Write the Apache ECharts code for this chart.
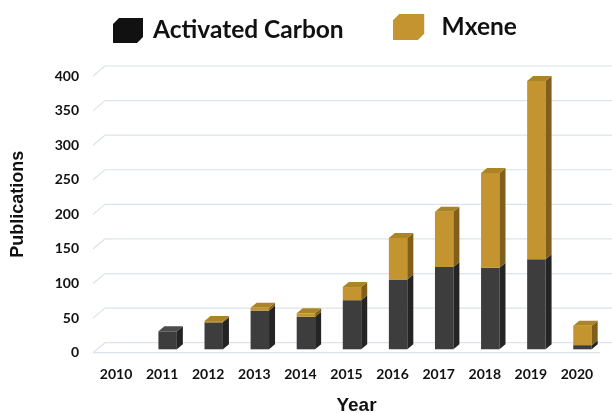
<!DOCTYPE html>
<html>
<head>
<meta charset="utf-8">
<script src="https://cdn.jsdelivr.net/npm/echarts@6/dist/echarts.min.js"></script>
<style>html,body{margin:0;padding:0;background:#fff}#c{width:612px;height:413px}</style>
</head>
<body>
<div id="c"></div>
<script>
var years = ['2010','2011','2012','2013','2014','2015','2016','2017','2018','2019','2020'];
var activatedCarbon = [0, 26, 39, 56, 47, 71, 101, 119, 118, 130, 6];
var mxene = [0, 0, 2, 4, 5, 19, 60, 80, 137, 258, 28];
var yTicks = [0, 50, 100, 150, 200, 250, 300, 350, 400];

var acData = years.map(function (y, i) { return [i, 0, activatedCarbon[i], mxene[i] > 0 ? 0 : 1]; });
var mxData = years.map(function (y, i) { return [i, activatedCarbon[i], activatedCarbon[i] + mxene[i], 1]; });
var gridData = yTicks.map(function (v) { return [0, v]; });

function barRenderer(front, side, top) {
  return function (params, api) {
    var i = api.value(0), b = api.value(1), t = api.value(2), isTop = api.value(3);
    if (!(t > b)) return null;
    var pb = api.coord([i, b]), pt = api.coord([i, t]);
    var w = api.size([1, 0])[0] * 0.4;
    var ox = 5.5, oy = -3.4, dx = 6, dy = -5;
    var x0 = pb[0] - w / 2 + ox, x1 = x0 + w, yb = pb[1] + oy, yt = pt[1] + oy;
    var children = [
      { type: 'rect', shape: { x: x0, y: yt, width: w, height: yb - yt }, style: { fill: front } },
      { type: 'polygon', shape: { points: [[x1, yt], [x1 + dx, yt + dy], [x1 + dx, yb + dy], [x1, yb]] }, style: { fill: side } }
    ];
    if (isTop) {
      children.push({ type: 'polygon', shape: { points: [[x0, yt], [x0 + dx, yt + dy], [x1 + dx, yt + dy], [x1, yt]] }, style: { fill: top } });
    }
    return { type: 'group', children: children };
  };
}

var chart = echarts.init(document.getElementById('c'), null, { renderer: 'canvas' });
var cubeIcon = 'path://M0,6 L24,6 L24,25 L0,25 Z M0,6 L6,0 L30,0 L24,6 Z M24,6 L30,0 L30,19 L24,25 Z';
chart.setOption({
  animation: false,
  backgroundColor: '#ffffff',
  legend: [
    { left: 108, top: 13, itemWidth: 30, itemHeight: 25, icon: cubeIcon,
      data: [{ name: 'Activated Carbon', itemStyle: { color: '#111111' } }],
      textStyle: { fontFamily: 'Lato', fontWeight: 'bold', fontSize: 24.5, color: '#111', padding: [0, 0, 0, 5] } },
    { left: 388, top: 9, itemWidth: 32, itemHeight: 26, icon: cubeIcon,
      data: [{ name: 'Mxene', itemStyle: { color: '#c3942f' } }],
      textStyle: { fontFamily: 'Lato', fontWeight: 'bold', fontSize: 24.5, color: '#111', padding: [0, 0, 0, 12] } }
  ],
  grid: { left: 93, right: 12, top: 76, bottom: 60.3, outerBoundsMode: 'none', containLabel: false },
  xAxis: {
    type: 'category', data: years,
    axisLine: { show: false }, axisTick: { show: false },
    axisLabel: { margin: 15, fontFamily: 'Lato', fontWeight: 'bold', fontSize: 14, color: '#111' },
    name: 'Year', nameLocation: 'middle', nameGap: 44,
    nameTextStyle: { fontFamily: 'Liberation Sans', fontWeight: 'bold', fontSize: 19, color: '#111', padding: [0, 0, 0, 20] }
  },
  yAxis: {
    type: 'value', min: 0, max: 400, interval: 50,
    axisLine: { show: false }, axisTick: { show: false }, splitLine: { show: false },
    axisLabel: { margin: 14, fontFamily: 'Lato', fontWeight: 'bold', fontSize: 14, color: '#111' },
    name: 'Publications', nameLocation: 'middle', nameGap: 66, nameRotate: 90,
    nameTextStyle: { fontFamily: 'Liberation Sans', fontWeight: 'bold', fontSize: 18, color: '#111', padding: [0, 0, 0, 20] }
  },
  series: [
    {
      type: 'custom', silent: true, z: 1, data: gridData, encode: { x: 0, y: 1 },
      renderItem: function (params, api) {
        var cs = params.coordSys;
        var y = api.coord([0, api.value(1)])[1];
        var kids = [{ type: 'polyline', shape: { points: [[cs.x, y], [cs.x + 12, y - 10], [612, y - 10]] },
          style: { stroke: '#dde3ea', lineWidth: 1.2, fill: null } }];
        if (api.value(1) === 0) {
          kids.push({ type: 'line', shape: { x1: cs.x, y1: y, x2: cs.x + cs.width, y2: y }, style: { stroke: '#dde3ea', lineWidth: 1.2 } });
        }
        return { type: 'group', children: kids };
      }
    },
    {
      name: 'Activated Carbon', type: 'custom', z: 3, data: acData, encode: { x: 0, y: [1, 2] },
      itemStyle: { color: '#3d3d3d' },
      renderItem: barRenderer('#3d3d3d', '#242424', '#4d4d4d')
    },
    {
      name: 'Mxene', type: 'custom', z: 3, data: mxData, encode: { x: 0, y: [1, 2] },
      itemStyle: { color: '#c3942f' },
      renderItem: barRenderer('#c3942f', '#7f5f1b', '#ab8426')
    }
  ]
});
</script>
</body>
</html>
